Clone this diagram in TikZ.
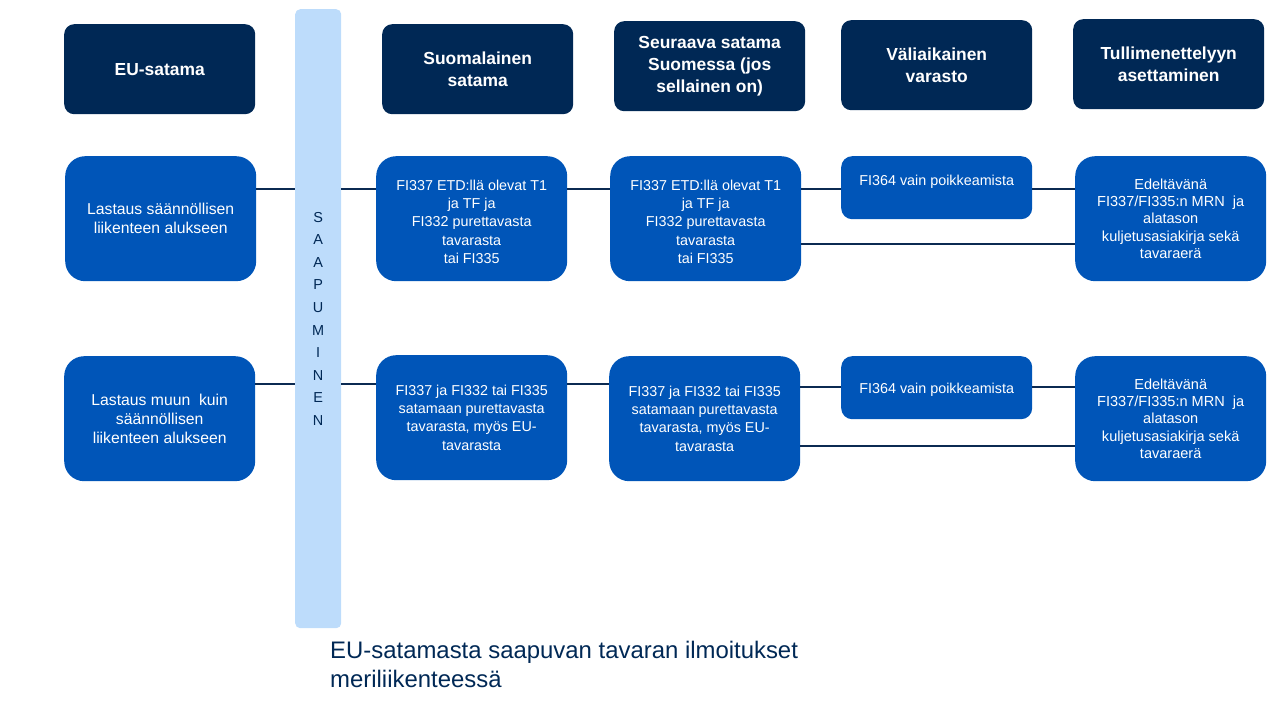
\documentclass[tikz,border=0pt]{standalone}
\usepackage{fontspec}
\setmainfont{Liberation Sans}
\usetikzlibrary{calc}
\definecolor{hdr}{HTML}{002855}
\definecolor{bx}{HTML}{0055B8}
\definecolor{barc}{HTML}{BDDCFB}
\definecolor{ln}{HTML}{0B2A52}
\begin{document}
\begin{tikzpicture}[x=1bp,y=-1bp,
 hdrbox/.style={fill=hdr, rounded corners=10bp, minimum width=191bp, minimum height=90bp, anchor=north west, text=white, font=\fontsize{17.5}{22.3}\selectfont\bfseries, align=center, inner sep=0pt},
 bluebox/.style={fill=bx, rounded corners=20bp, minimum width=191bp, minimum height=125bp, anchor=north west, text=white, font=\fontsize{14.4}{18.4}\selectfont, align=center, inner sep=0pt},
 bigtext/.style={font=\fontsize{15.8}{18.8}\selectfont},
 edtext/.style={font=\fontsize{14.6}{17.3}\selectfont},
 txt/.style={text=white, font=\fontsize{14.4}{18.4}\selectfont, align=center, inner sep=0pt},
 smallbox/.style={bluebox, minimum height=63bp, rounded corners=11bp},
 conn/.style={draw=ln, line width=2bp}]
\useasboundingbox (0,0) rectangle (1280,720);
% column bar
\node[fill=barc, rounded corners=5bp, minimum width=46bp, minimum height=619bp, anchor=north west, inner sep=0pt, text=hdr, align=center, font=\fontsize{14.5}{22.6}\selectfont] (bar) at (295,9) {S\\A\\A\\P\\U\\M\\I\\N\\E\\N};
% headers
\node[hdrbox] (h1) at (64,24) {EU-satama};
\node[hdrbox] (h2) at (382,24) {Suomalainen\\satama};
\node[hdrbox] (h3) at (614,21) {Seuraava satama\\Suomessa (jos\\sellainen on)};
\node[hdrbox] (h4) at (841,20) {Väliaikainen\\varasto};
\node[hdrbox] (h5) at (1073,19) {Tullimenettelyyn\\asettaminen};
% row 1
\node[bluebox, bigtext] (a1) at (65,156) {Lastaus säännöllisen\\liikenteen alukseen};
\node[bluebox, label={[txt, yshift=-3bp]center:{FI337 ETD:llä olevat T1\\ja TF ja\\FI332 purettavasta\\tavarasta\\tai FI335}}] (b1) at (376,156) {};
\node[bluebox, label={[txt, yshift=-3bp]center:{FI337 ETD:llä olevat T1\\ja TF ja\\FI332 purettavasta\\tavarasta\\tai FI335}}] (c1) at (610,156) {};
\node[smallbox, label={[txt, anchor=north, yshift=-19bp]north:FI364 vain poikkeamista}] (d1) at (841,156) {};
\node[bluebox, edtext] (e1) at (1075,156) {Edeltävänä\\FI337/FI335:n MRN\ \ ja\\alatason\\kuljetusasiakirja sekä\\tavaraerä};
% row 2
\node[bluebox, bigtext] (a2) at (64,356) {Lastaus muun\ \ kuin\\säännöllisen\\liikenteen alukseen};
\node[bluebox] (b2) at (376,355) {FI337 ja FI332 tai FI335\\satamaan purettavasta\\tavarasta, myös EU-\\tavarasta};
\node[bluebox] (c2) at (609,356) {FI337 ja FI332 tai FI335\\satamaan purettavasta\\tavarasta, myös EU-\\tavarasta};
\node[smallbox, label={[txt, anchor=north, yshift=-27bp]north:FI364 vain poikkeamista}] (d2) at (841,356) {};
\node[bluebox, edtext] (e2) at (1075,356) {Edeltävänä\\FI337/FI335:n MRN\ \ ja\\alatason\\kuljetusasiakirja sekä\\tavaraerä};
% connectors row 1
\coordinate (y1) at (0,189);
\coordinate (y1b) at (0,244);
\draw[conn] (a1.east |- y1) -- (bar.west |- y1);
\draw[conn] (bar.east |- y1) -- (b1.west |- y1);
\draw[conn] (b1.east |- y1) -- (c1.west |- y1);
\draw[conn] (c1.east |- y1) -- (d1.west |- y1);
\draw[conn] (d1.east |- y1) -- (e1.west |- y1);
\draw[conn] (c1.east |- y1b) -- (e1.west |- y1b);
% connectors row 2
\coordinate (y2) at (0,384);
\coordinate (y2c) at (0,387);
\coordinate (y2b) at (0,446);
\draw[conn] (a2.east |- y2) -- (bar.west |- y2);
\draw[conn] (bar.east |- y2) -- (b2.west |- y2);
\draw[conn] (b2.east |- y2) -- (c2.west |- y2);
\draw[conn] (c2.east |- y2c) -- (d2.west |- y2c);
\draw[conn] (d2.east |- y2c) -- (e2.west |- y2c);
\draw[conn] (c2.east |- y2b) -- (e2.west |- y2b);
% title
\node[anchor=north west, align=left, text=hdr, inner sep=0pt, font=\fontsize{24}{29.5}\selectfont] (title) at (330,641) {EU-satamasta saapuvan tavaran ilmoitukset\\meriliikenteessä};
\end{tikzpicture}
\end{document}
